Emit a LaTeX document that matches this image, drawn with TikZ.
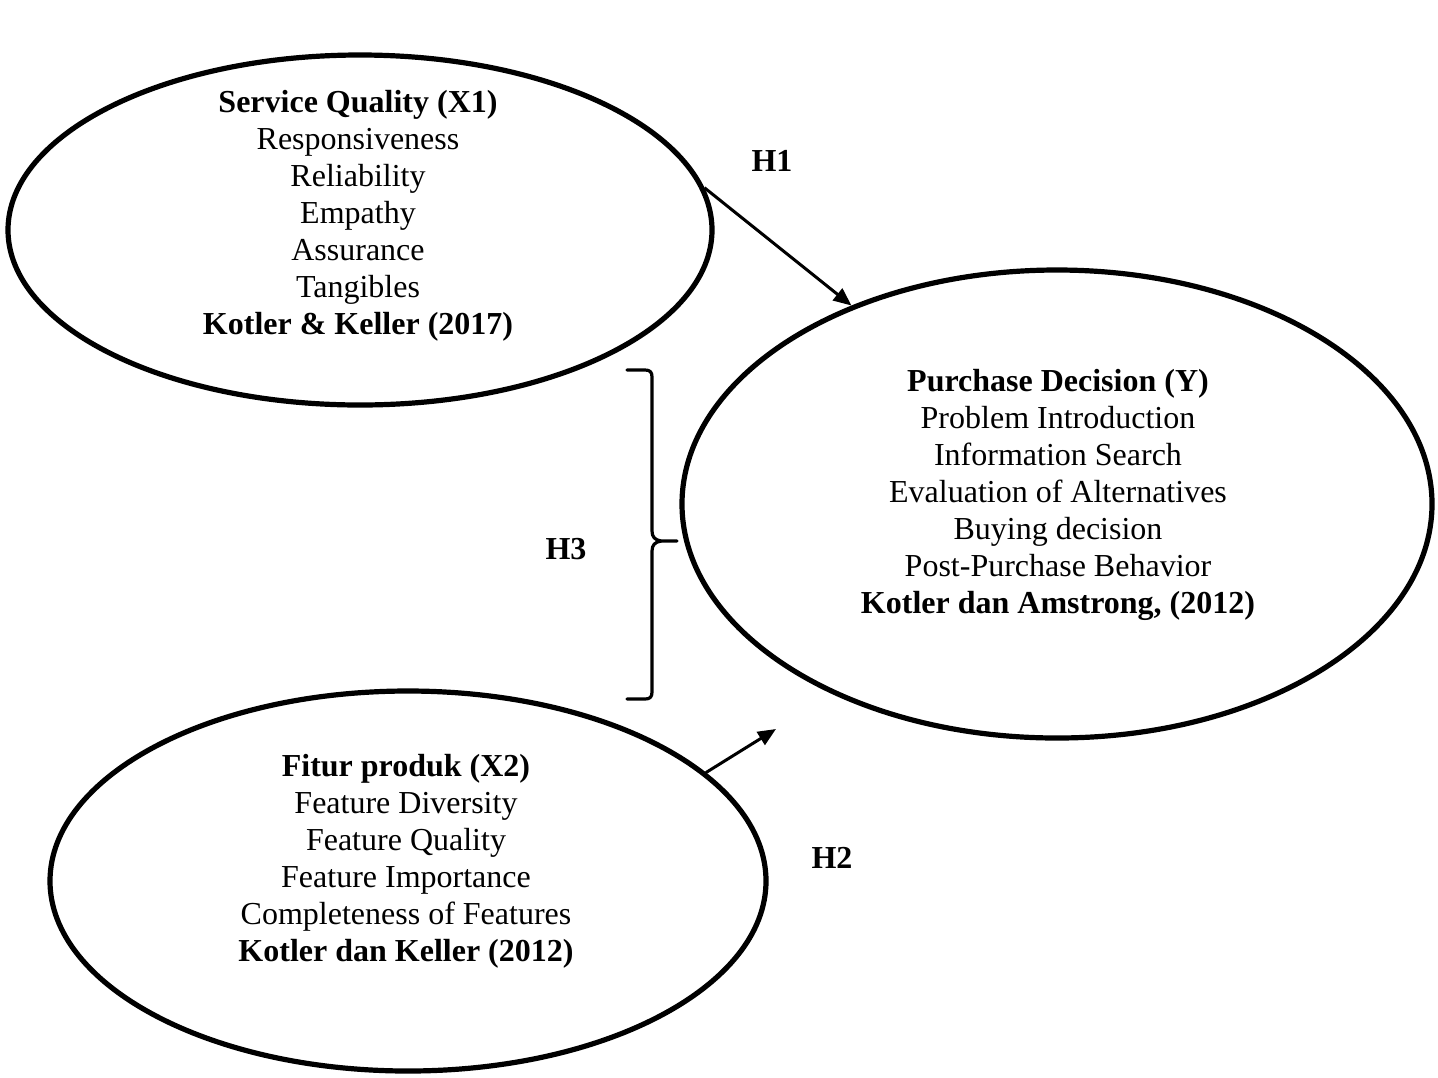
\documentclass[tikz,border=0pt]{standalone}
\usepackage{fontspec}
\setmainfont{Liberation Serif}
\usetikzlibrary{shapes.geometric,arrows.meta}
\begin{document}
\begin{tikzpicture}[x=0.5pt,y=-0.5pt,
  oval/.style={ellipse,draw,line width=2.6pt,inner sep=0pt},
  txt/.style={align=center,font=\fontsize{16}{18.5}\selectfont,inner sep=0pt},
  hlab/.style={font=\fontsize{16}{18.5}\selectfont\bfseries,inner sep=0pt},
  arr/.style={line width=1.5pt,-{Triangle[length=9pt,width=7.5pt]}},
  bracestyle/.style={line width=1.6pt,line cap=round,line join=round}]
\useasboundingbox (0,0) rectangle (1438,1077);
\node[oval,minimum width=352pt,minimum height=175pt] (x1) at (360,230) {};
\node[oval,minimum width=375pt,minimum height=234pt] (y) at (1057,504) {};
\node[oval,minimum width=358pt,minimum height=190pt] (x2) at (408,881) {};
\node[txt] (x1t) at (358,216) {\textbf{Service Quality (X1)}\\Responsiveness\\Reliability\\Empathy\\Assurance\\Tangibles\\\textbf{Kotler \& Keller (2017)}};
\node[txt] (yt) at (1058,495) {\textbf{Purchase Decision (Y)}\\Problem Introduction\\Information Search\\Evaluation of Alternatives\\Buying decision\\Post-Purchase Behavior\\\textbf{Kotler dan Amstrong, (2012)}};
\node[txt] (x2t) at (406,861) {\textbf{Fitur produk (X2)}\\Feature Diversity\\Feature Quality\\Feature Importance\\Completeness of Features\\\textbf{Kotler dan Keller (2012)}};
\node[hlab] (h1) at (772,161) {H1};
\node[hlab] (h3) at (566,549) {H3};
\node[hlab] (h2) at (832,858) {H2};
\draw[arr] (x1.7.4) -- (y.136.6);
\coordinate (h2end) at (776,729);
\draw[arr] (x2.20.5) -- (h2end);
\draw[bracestyle] (627,370) -- (645,370) .. controls (650,370) and (652,372) .. (652,377)
  -- (652,531) .. controls (652,537) and (655,540) .. (661,541) -- (677,541);
\draw[bracestyle] (661,541) .. controls (655,542) and (652,545) .. (652,551)
  -- (652,692) .. controls (652,697) and (650,699) .. (645,699) -- (627,699);
\end{tikzpicture}
\end{document}
